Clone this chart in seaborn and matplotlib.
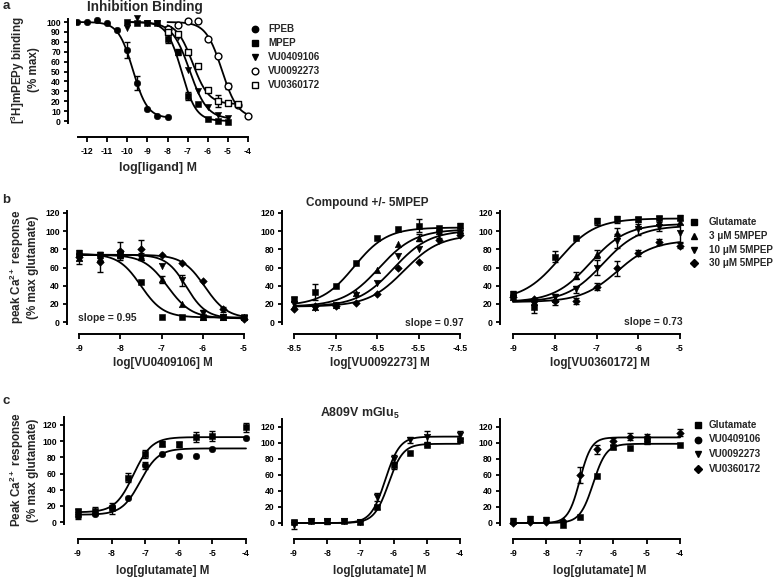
import numpy as np
import pandas as pd
import matplotlib
matplotlib.use("Agg")
import matplotlib.pyplot as plt
from matplotlib.lines import Line2D
import seaborn as sns

# ---------------- DATA ----------------
# Panel a: inhibition binding
a_names = ["FPEB", "MPEP", "VU0409106", "VU0092273", "VU0360172"]
a_x_fpeb = [-12.5, -12, -11.5, -11, -10.5, -10, -9.5, -9, -8.5, -8]
a_y_fpeb = [100, 100, 102, 99, 92, 72, 38, 12, 5, 4]
a_e_fpeb = [0, 0, 0, 0, 0, 8, 7, 0, 0, 0]
a_x_mpep = [-10, -9.5, -9, -8.5, -8, -7.5, -7, -6.5, -6, -5.5, -5]
a_y_mpep = [100, 99, 99, 99, 83, 70, 25, 17, 2, 0, -1]
a_e_mpep = [0, 0, 0, 0, 4, 3, 4, 0, 0, 0, 0]
a_x_106 = [-10, -9.5, -9, -8.5, -8, -7.5, -7, -6.5, -6, -5.5, -5]
a_y_106 = [94, 104, 99, 99, 93, 85, 52, 30, 14, 6, 3]
a_e_106 = [0, 0, 0, 0, 0, 0, 0, 0, 0, 0, 0]
a_x_273 = [-8, -7.5, -7, -6.5, -6, -5.5, -5, -4.5, -4]
a_y_273 = [93, 97, 101, 101, 83, 66, 35, 16, 5]
a_e_273 = [0, 0, 0, 0, 0, 0, 3, 0, 0]
a_x_172 = [-8, -7.5, -7, -6.5, -6, -5.5, -5, -4.5]
a_y_172 = [90, 88, 70, 56, 31, 20, 18, 17]
a_e_172 = [0, 0, 0, 0, 0, 6, 0, 0]
# fitted curve parameters (bottom, top, logIC50, hill)
a_fit = [(3, 100, -9.72, -1.2), (0, 100, -7.3, -1.2), (2, 100, -6.9, -1.0),
         (3, 100, -5.3, -1.1), (17, 100, -6.75, -1.1)]

# Panel b
b_labels = ["Glutamate", "3 μM 5MPEP", "10 μM 5MPEP", "30 μM 5MPEP"]
b1_x = [-9, -8.5, -8, -7.5, -7, -6.5, -6, -5.5, -5]
b1_y = [[76, 74, 74, 44, 6, 5, 5, 5, 5],
        [70, 70, 75, 72, 47, 20, 5, 5, 5],
        [72, 70, 74, 70, 62, 46, 10, 5, 4],
        [72, 66, 78, 80, 74, 65, 45, 14, 3]]
b1_e = [[3, 3, 3, 0, 0, 0, 0, 0, 0],
        [6, 0, 4, 4, 4, 0, 0, 0, 0],
        [0, 0, 0, 0, 0, 6, 3, 0, 0],
        [4, 11, 10, 10, 0, 0, 0, 3, 0]]
b1_fit = [(5, 75, -7.5, -1.6), (4, 74, -6.85, -1.5), (4, 74, -6.4, -1.8), (4, 74, -5.95, -1.6)]

b2_x = [-8.5, -8, -7.5, -7, -6.5, -6, -5.5, -5, -4.5]
b2_y = [[25, 33, 40, 65, 92, 102, 106, 103, 106],
        [18, 17, 19, 32, 57, 86, 93, 100, 101],
        [20, 15, 19, 30, 43, 73, 80, 97, 98],
        [14, 18, 18, 21, 31, 60, 66, 90, 96]]
b2_e = [[3, 9, 0, 0, 0, 0, 7, 0, 3],
        [0, 0, 0, 0, 0, 0, 4, 0, 0],
        [0, 0, 0, 0, 0, 0, 0, 4, 0],
        [0, 0, 0, 0, 0, 0, 0, 0, 0]]
b2_fit = [(18, 104, -7.05, 1.1), (17, 102, -6.45, 1.0), (17, 101, -6.1, 1.0), (17, 96, -5.85, 1.0)]

b3_x = [-9, -8.5, -8, -7.5, -7, -6.5, -6, -5.5, -5]
b3_y = [[31, 16, 72, 92, 111, 113, 113, 115, 115],
        [28, 22, 25, 51, 75, 98, 106, 110, 110],
        [26, 20, 27, 36, 60, 89, 102, 105, 98],
        [27, 25, 23, 23, 39, 59, 76, 88, 84]]
b3_e = [[3, 6, 6, 0, 4, 4, 3, 2, 3],
        [3, 0, 6, 4, 4, 5, 0, 0, 0],
        [0, 0, 0, 4, 8, 8, 6, 5, 10],
        [0, 0, 0, 3, 4, 8, 3, 3, 3]]
b3_fit = [(24, 114, -7.9, 1.0), (22, 108, -7.15, 1.0), (22, 106, -6.85, 1.0), (22, 90, -6.5, 1.0)]

# Panel c
c_labels = ["Glutamate", "VU0409106", "VU0092273", "VU0360172"]
c_x = [-9, -8.5, -8, -7.5, -7, -6.5, -6, -5.5, -5, -4]
c1_y = [[13, 14, 17, 55, 84, 97, 96, 105, 106, 117],
        [8, 10, 18, 30, 70, 84, 82, 82, 90, 104]]
c1_e = [[3, 5, 7, 6, 5, 3, 3, 6, 6, 6],
        [4, 0, 0, 0, 4, 0, 0, 0, 0, 0]]
c1_fit = [(12, 105, -7.35, 1.6), (9, 91, -7.15, 1.6)]
c2_y = [[1, 2, 2, 2, 1, 20, 72, 88, 98, 104],
        [-2, 3, 2, 2, 1, 32, 80, 104, 108, 110]]
c2_e = [[2, 2, 2, 2, 2, 2, 4, 0, 2, 2],
        [6, 0, 3, 0, 0, 5, 5, 4, 7, 5]]
c2_fit = [(0, 99, -6.15, 2.0), (0, 108, -6.25, 2.0)]
c3_y = [[3, 5, 4, -3, 8, 59, 95, 94, 102, 98],
        [0, 1, 1, 3, 60, 92, 102, 108, 107, 113]]
c3_e = [[3, 4, 3, 0, 0, 0, 3, 0, 3, 0],
        [0, 0, 0, 0, 10, 6, 4, 4, 4, 4]]
c3_fit = [(0, 99, -6.6, 2.2), (0, 107, -7.0, 2.5)]

# ---------------- STYLE ----------------
sns.set_theme(style="ticks")
plt.rcParams["font.family"] = ["Liberation Sans", "DejaVu Sans"]
plt.rcParams["font.weight"] = "bold"
plt.rcParams["axes.unicode_minus"] = False
plt.rcParams["mathtext.fontset"] = "custom"
plt.rcParams["mathtext.rm"] = "Liberation Sans:bold"
plt.rcParams["mathtext.default"] = "rm"

W, H = 773, 578
fig = plt.figure(figsize=(W / 100, H / 100), dpi=100)
fig.patch.set_facecolor("white")

TICK_FS = 6.2
LAB_FS = 8.4
LEG_FS = 7.1


def hill(x, p):
    bottom, top, logec, h = p
    return bottom + (top - bottom) / (1 + 10 ** ((logec - x) * h))


def make_ax(xpx, xv, ypx, yv, xlim, ylim, yspine_px, xspine_px, xb, yb, xticks, yticks):
    bx = (xpx[1] - xpx[0]) / (xv[1] - xv[0])
    ax0 = xpx[0] + bx * (xlim[0] - xv[0])
    ax1 = xpx[0] + bx * (xlim[1] - xv[0])
    by = (ypx[1] - ypx[0]) / (yv[1] - yv[0])
    top = ypx[0] + by * (ylim[1] - yv[0])
    bot = ypx[0] + by * (ylim[0] - yv[0])
    ax = fig.add_axes([ax0 / W, 1 - bot / H, (ax1 - ax0) / W, (bot - top) / H])
    ax.set_xlim(xlim)
    ax.set_ylim(ylim)
    ax.set_facecolor("none")
    for s in ["top", "right"]:
        ax.spines[s].set_visible(False)
    ax.spines["left"].set_position(("outward", (ax0 - yspine_px) * 0.72))
    ax.spines["bottom"].set_position(("outward", (xspine_px - bot) * 0.72))
    ax.spines["left"].set_bounds(*yb)
    ax.spines["bottom"].set_bounds(*xb)
    for s in ["left", "bottom"]:
        ax.spines[s].set_linewidth(1.4)
        ax.spines[s].set_color("black")
    ax.set_xticks(xticks)
    ax.set_yticks(yticks)
    ax.set_xticklabels([("%g" % t) for t in xticks], fontsize=TICK_FS, fontweight="bold")
    ax.set_yticklabels([("%g" % t) for t in yticks], fontsize=TICK_FS, fontweight="bold")
    ax.tick_params(axis="x", direction="out", length=3.8, width=1.3, pad=3.5, colors="black")
    ax.tick_params(axis="y", direction="out", length=3.2, width=1.3, pad=2, colors="black")
    ax.set_xlabel("")
    ax.set_ylabel("")
    return ax


def draw_series(ax, x, y, e, fit, marker, filled=True, s=16):
    x = np.asarray(x, float)
    y = np.asarray(y, float)
    e = np.asarray(e, float)
    xx = np.linspace(x.min(), x.max(), 200)
    sns.lineplot(x=xx, y=hill(xx, fit), color="black", lw=1.3, ax=ax, legend=False, zorder=2)
    m = e > 0
    if m.any():
        ax.errorbar(x[m], y[m], yerr=e[m], fmt="none", ecolor="black", elinewidth=1.0,
                    capsize=2.4, capthick=1.0, zorder=3)
    sns.scatterplot(x=x, y=y, marker=marker, s=s, color="black" if filled else "white",
                    edgecolor="black", linewidth=1.0 if not filled else 0.4, ax=ax,
                    legend=False, zorder=4)


def add_legend(entries, x_marker, x_text, y0, dy, fs=LEG_FS):
    for i, (mk, filled, lab, s) in enumerate(entries):
        y = y0 + i * dy
        fig.add_artist(Line2D([x_marker / W], [1 - y / H], marker=mk, linestyle="none",
                              markersize=s, markerfacecolor="black" if filled else "white",
                              markeredgecolor="black", markeredgewidth=1.0,
                              transform=fig.transFigure))
        fig.text(x_text / W, 1 - y / H, lab, fontsize=fs, fontweight="bold",
                 va="center", ha="left")


def ftext(x, y, s, fs, rot=0, ha="center"):
    fig.text(x / W, 1 - y / H, s, fontsize=fs, fontweight="bold", ha=ha, va="center",
             rotation=rot, linespacing=1.1)


# ---------------- PANEL A ----------------
axa = make_ax((87, 248), (-12, -4), (121, 22), (0, 100), (-12.55, -3.8), (-5, 108),
              68, 137, (-12.45, -4), (-2, 103), list(range(-12, -3)), list(range(0, 101, 10)))
a_sets = [(a_x_fpeb, a_y_fpeb, a_e_fpeb, "o", True, 22),
          (a_x_mpep, a_y_mpep, a_e_mpep, "s", True, 18),
          (a_x_106, a_y_106, a_e_106, "v", True, 20),
          (a_x_273, a_y_273, a_e_273, "o", False, 24),
          (a_x_172, a_y_172, a_e_172, "s", False, 22)]
for (x, y, e, mk, fl, s), p in zip(a_sets, a_fit):
    draw_series(axa, x, y, e, p, mk, fl, s)
add_legend([("o", True, a_names[0], 4.6), ("s", True, a_names[1], 4.2), ("v", True, a_names[2], 4.4),
            ("o", False, a_names[3], 4.8), ("s", False, a_names[4], 4.6)], 255, 268, 29, 14)
ftext(145, 7, "Inhibition Binding", 9.8)
ftext(6, 6, "a", 9.5)
ftext(24, 70, "[$^3$H]mPEPy binding\n(% max)", LAB_FS, rot=90)
ftext(158, 168, "log[ligand] M", 8.9)

# ---------------- PANEL B ----------------
b_marks = [("s", 20), ("^", 22), ("v", 22), ("D", 15)]
bticks_y = list(range(0, 121, 20))
axb1 = make_ax((79, 244), (-9, -5), (322, 213), (0, 120), (-9.2, -4.8), (-8, 126),
               67, 334, (-9, -5), (-2, 122), [-9, -8, -7, -6, -5], bticks_y)
for i in range(4):
    draw_series(axb1, b1_x, b1_y[i], b1_e[i], b1_fit[i], b_marks[i][0], True, b_marks[i][1])
axb2 = make_ax((294, 460), (-8.5, -4.5), (322, 213), (0, 120), (-8.7, -4.3), (-8, 126),
               282, 334, (-8.5, -4.5), (-2, 122), [-8.5, -7.5, -6.5, -5.5, -4.5], bticks_y)
for i in range(4):
    draw_series(axb2, b2_x, b2_y[i], b2_e[i], b2_fit[i], b_marks[i][0], True, b_marks[i][1])
axb3 = make_ax((513, 680), (-9, -5), (322, 213), (0, 120), (-9.2, -4.8), (-8, 126),
               500, 334, (-9, -5), (-2, 122), [-9, -8, -7, -6, -5], bticks_y)
for i in range(4):
    draw_series(axb3, b3_x, b3_y[i], b3_e[i], b3_fit[i], b_marks[i][0], True, b_marks[i][1])
add_legend([("s", True, b_labels[0], 4.2), ("^", True, b_labels[1], 4.4),
            ("v", True, b_labels[2], 4.4), ("D", True, b_labels[3], 3.7)], 694, 709, 222, 13.8)
ftext(6, 200, "b", 9.5)
ftext(367, 203, "Compound +/- 5MPEP", 8.5)
ftext(23, 267, "peak Ca$^{2+}$ response\n(% max glutamate)", LAB_FS, rot=90)
ftext(163, 363, "log[VU0409106] M", LAB_FS)
ftext(380, 363, "log[VU0092273] M", LAB_FS)
ftext(600, 363, "log[VU0360172] M", LAB_FS)
ftext(78, 318, "slope = 0.95", 7.4, ha="left")
ftext(464, 323, "slope = 0.97", 7.4, ha="right")
ftext(683, 322, "slope = 0.73", 7.4, ha="right")

# ---------------- PANEL C ----------------
cticks_y = list(range(0, 121, 20))
c_marks = [("s", 20), ("o", 22), ("v", 22), ("D", 15)]
axc1 = make_ax((78, 246), (-9, -4), (522, 425), (0, 120), (-9.2, -3.8), (-10, 132),
               64, 539, (-9, -4), (-2, 130), [-9, -8, -7, -6, -5, -4], cticks_y)
for i, k in enumerate([0, 1]):
    draw_series(axc1, c_x, c1_y[i], c1_e[i], c1_fit[i], c_marks[k][0], True, c_marks[k][1])
axc2 = make_ax((294, 460), (-9, -4), (523, 427), (0, 120), (-9.2, -3.8), (-10, 132),
               282, 539, (-9, -4), (-2, 130), [-9, -8, -7, -6, -5, -4], cticks_y)
for i, k in enumerate([0, 2]):
    draw_series(axc2, c_x, c2_y[i], c2_e[i], c2_fit[i], c_marks[k][0], True, c_marks[k][1])
axc3 = make_ax((513, 680), (-9, -4), (523, 427), (0, 120), (-9.2, -3.8), (-10, 132),
               500, 539, (-9, -4), (-2, 130), [-9, -8, -7, -6, -5, -4], cticks_y)
for i, k in enumerate([0, 3]):
    draw_series(axc3, c_x, c3_y[i], c3_e[i], c3_fit[i], c_marks[k][0], True, c_marks[k][1])
add_legend([("s", True, c_labels[0], 4.2), ("o", True, c_labels[1], 4.6),
            ("v", True, c_labels[2], 4.4), ("D", True, c_labels[3], 3.7)], 698, 709, 425, 14.5)
ftext(6, 401, "c", 9.5)
ftext(360, 413, "A809V mGlu$_5$", 8.9)
ftext(23, 470, "Peak Ca$^{2+}$ response\n(% max glutamate)", LAB_FS, rot=90)
ftext(163, 571, "log[glutamate] M", LAB_FS)
ftext(380, 571, "log[glutamate] M", LAB_FS)
ftext(600, 571, "log[glutamate] M", LAB_FS)

fig.savefig("out.png", dpi=100, facecolor="white")
